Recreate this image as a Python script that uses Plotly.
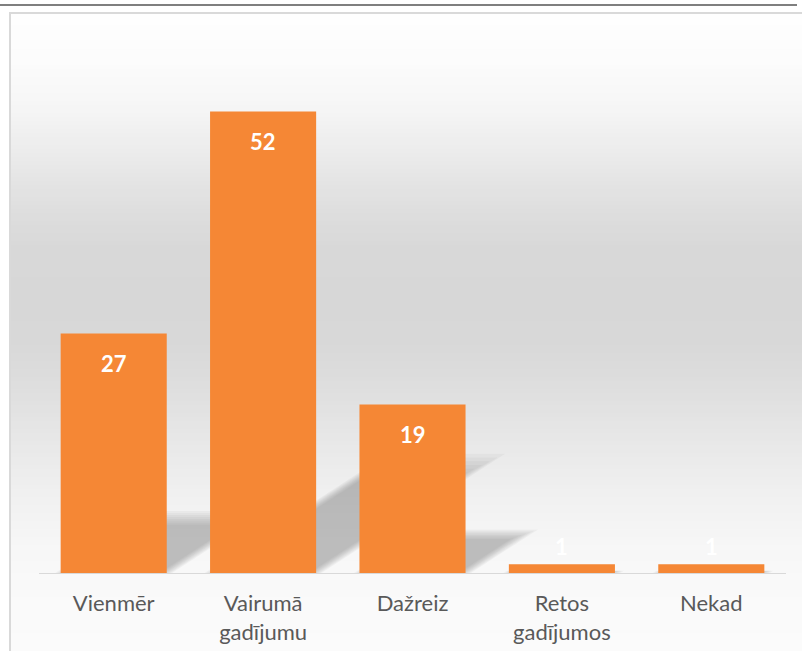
import plotly.graph_objects as go

# survey answers and counts
categories = ["Vienmēr", "Vairumā<br>gadījumu", "Dažreiz", "Retos<br>gadījumos", "Nekad"]
counts = [27, 52, 19, 1, 1]

W, H = 802, 651
ML, MR, MT, MB = 39, 16, 85, 78
PW, PH = W - ML - MR, H - MT - MB
Y_MAX = 55

BAR_COLOR = "#F58735"
TICK_COLOR = "#595959"
FONT = "Lato, 'Open Sans', sans-serif"


def px2paper(px, py):
    return (px - ML) / PW, (H - MB - py) / PH


# grey background gradient (pixel row, grey level)
GRAD = [(13, 254), (60, 252), (110, 245), (150, 236), (180, 229), (210, 222),
        (250, 216), (300, 215), (340, 216), (380, 221), (420, 228), (460, 235),
        (500, 241), (540, 246), (580, 249), (652, 251)]


def grey_at(py):
    for (y0, g0), (y1, g1) in zip(GRAD, GRAD[1:]):
        if y0 <= py <= y1:
            return g0 + (g1 - g0) * (py - y0) / (y1 - y0)
    return GRAD[-1][1]


shapes = []
step = 4
py = 13
while py < H:
    g = int(round(grey_at(py + step / 2)))
    x0, y0 = px2paper(10, py + step + 0.5)
    x1, y1 = px2paper(W + 5, py)
    shapes.append(dict(type="rect", xref="paper", yref="paper", x0=x0, x1=x1, y0=y0, y1=y1,
                       fillcolor=f"rgb({g},{g},{g})", line=dict(width=0), layer="below"))
    py += step

# frame and top rule
fx0, fy0 = px2paper(10, H + 10)
fx1, fy1 = px2paper(W + 10, 13)
shapes.append(dict(type="rect", xref="paper", yref="paper", x0=fx0, x1=fx1, y0=fy0, y1=fy1,
                   line=dict(color="#d9d9d9", width=2), fillcolor="rgba(0,0,0,0)", layer="above"))
lx0, ly = px2paper(0, 5)
lx1, _ = px2paper(797, 5)
shapes.append(dict(type="line", xref="paper", yref="paper", x0=lx0, x1=lx1, y0=ly, y1=ly,
                   line=dict(color="#000000", width=1.2), layer="above"))

# perspective shadows behind the bars, blurred by stacking soft layers
half = 0.355
px_per_unit = PH / Y_MAX
cat_px = PW / len(categories)
for i, v in enumerate(counts):
    hpx = v * px_per_unit
    dx = 0.36 * hpx / cat_px
    dy = 0.234 * v
    for k in range(-3, 5):
        ins = 0.012 * k
        s = 1.0 - 0.035 * k
        pts = [(i - half + ins, 0), (i + half - ins, 0),
               (i + half - ins + dx * s, dy * s), (i - half + ins + dx * s, dy * s)]
        path = "M " + " L ".join(f"{x},{y}" for x, y in pts) + " Z"
        shapes.append(dict(type="path", xref="x", yref="y", path=path,
                           fillcolor="rgba(100,100,100,0.06)", line=dict(width=0), layer="below"))

fig = go.Figure(go.Bar(
    x=list(range(len(categories))), y=counts,
    width=1 - 0.29,
    marker=dict(color=BAR_COLOR, line=dict(width=0)),
    hoverinfo="skip",
))

annotations = []
for i, v in enumerate(counts):
    inside = v * px_per_unit > 60
    annotations.append(dict(
        x=i, y=v, xref="x", yref="y", text=str(v), showarrow=False,
        yanchor="middle", yshift=-30 if inside else 18,
        font=dict(family=FONT, size=22, color="#FFFFFF", weight="bold"),
    ))

fig.update_layout(
    width=W, height=H,
    margin=dict(l=ML, r=MR, t=MT, b=MB),
    paper_bgcolor="#FFFFFF",
    plot_bgcolor="rgba(0,0,0,0)",
    font=dict(family=FONT, color=TICK_COLOR),
    showlegend=False,
    shapes=shapes,
    annotations=annotations,
    xaxis=dict(
        range=[-0.5, len(categories) - 0.5],
        tickvals=list(range(len(categories))), ticktext=categories,
        tickfont=dict(family=FONT, size=22, color=TICK_COLOR),
        ticks="outside", ticklen=11, tickcolor="rgba(0,0,0,0)",
        showline=True, linecolor="#d9d9d9", linewidth=1,
        showgrid=False, zeroline=False, fixedrange=True, automargin=False,
    ),
    yaxis=dict(
        range=[0, Y_MAX], visible=False, showgrid=False, zeroline=False,
        fixedrange=True, automargin=False,
    ),
)

fig.write_html(
    "out.html",
    config={"displayModeBar": False},
    post_script="document.body.style.margin='0';document.body.style.overflow='hidden';",
)
